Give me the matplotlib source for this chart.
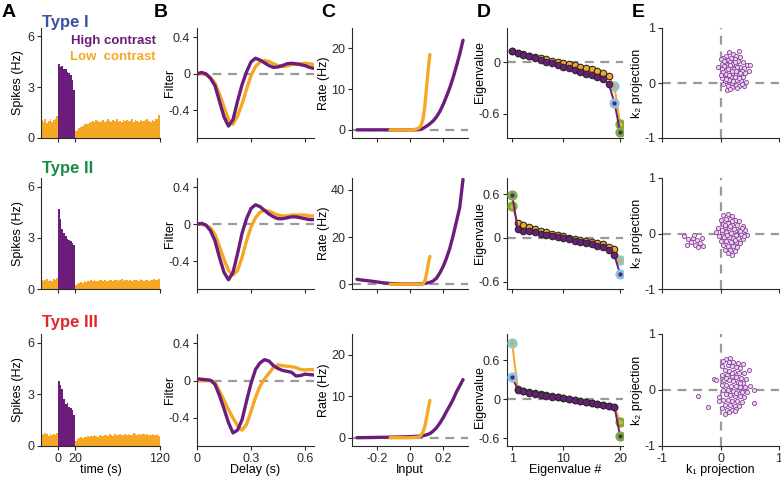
import numpy as np
import matplotlib.pyplot as plt

plt.rcParams['font.family'] = ['Liberation Sans', 'DejaVu Sans']
plt.rcParams['axes.unicode_minus'] = False
plt.rcParams['font.size'] = 9

PURPLE = '#6c1d7b'
ORANGE = '#f6a724'
CYAN = '#86c9e3'
GREEN = '#77b03f'
DASH = '#9a9a9a'
INK = '#2a2a2a'

# ---------- data ----------
type_names = ['Type I', 'Type II', 'Type III']
type_colors = ['#3a52a3', '#1d8a4a', '#e0262b']

# A: PSTH (2 s bins): before switch, high contrast 0-20 s, low contrast 20-120 s
pre_rates = [
    [1.05, 0.95, 1.10, 0.90, 1.00, 1.15, 0.95, 1.05, 1.10, 1.30],
    [0.55, 0.45, 0.50, 0.60, 0.48, 0.52, 0.45, 0.58, 0.50, 0.62],
    [0.70, 0.62, 0.75, 0.68, 0.60, 0.72, 0.65, 0.70, 0.66, 0.78],
]
high_rates = [
    [4.35, 4.20, 4.25, 4.05, 4.10, 3.90, 3.85, 3.70, 3.40, 2.85],
    [4.70, 4.10, 3.50, 3.30, 3.10, 2.95, 2.85, 2.80, 2.70, 2.55],
    [3.80, 3.55, 3.30, 2.70, 2.45, 2.50, 2.25, 2.20, 2.10, 1.80],
]
post_rates = [
    [0.40, 0.50, 0.58, 0.65, 0.72, 0.80, 0.85, 0.82, 0.90, 0.95,
     1.00, 0.92, 1.05, 0.98, 0.95, 1.02, 1.08, 0.96, 1.00, 1.10,
     0.98, 0.94, 1.05, 1.00, 1.12, 0.97, 1.03, 0.95, 1.08, 1.00,
     1.06, 0.98, 1.02, 1.10, 0.96, 1.04, 1.00, 0.95, 1.08, 1.02,
     0.98, 1.05, 1.12, 1.00, 0.96, 1.06, 1.02, 1.10, 1.15, 1.35],
    [0.22, 0.30, 0.35, 0.40, 0.38, 0.45, 0.42, 0.48, 0.44, 0.50,
     0.46, 0.52, 0.48, 0.45, 0.50, 0.55, 0.47, 0.52, 0.49, 0.45,
     0.53, 0.50, 0.46, 0.55, 0.51, 0.48, 0.52, 0.56, 0.47, 0.50,
     0.54, 0.49, 0.52, 0.46, 0.55, 0.50, 0.53, 0.48, 0.57, 0.51,
     0.49, 0.54, 0.50, 0.47, 0.55, 0.52, 0.58, 0.50, 0.53, 0.60],
    [0.30, 0.38, 0.45, 0.50, 0.48, 0.55, 0.52, 0.58, 0.54, 0.60,
     0.56, 0.62, 0.58, 0.55, 0.64, 0.60, 0.57, 0.66, 0.62, 0.59,
     0.68, 0.63, 0.60, 0.70, 0.65, 0.62, 0.72, 0.66, 0.61, 0.68,
     0.64, 0.70, 0.66, 0.62, 0.75, 0.68, 0.64, 0.70, 0.66, 0.72,
     0.68, 0.63, 0.70, 0.66, 0.64, 0.69, 0.65, 0.62, 0.67, 0.60],
]

# B: linear filters, sampled every 25 ms from 0 to 0.65 s
delay = np.round(np.arange(0, 0.651, 0.025), 3)
filt_high = [
    [0.0, 0.015, 0.0, -0.05, -0.13, -0.30, -0.47, -0.57, -0.50, -0.30, -0.12, 0.02, 0.13, 0.17,
     0.15, 0.12, 0.09, 0.07, 0.075, 0.09, 0.11, 0.115, 0.11, 0.10, 0.09, 0.07, 0.06],
    [0.0, 0.01, -0.01, -0.07, -0.18, -0.36, -0.52, -0.60, -0.52, -0.32, -0.10, 0.06, 0.17, 0.21,
     0.19, 0.15, 0.11, 0.08, 0.06, 0.06, 0.07, 0.08, 0.08, 0.07, 0.06, 0.05, 0.05],
    [0.02, 0.015, 0.01, 0.005, -0.04, -0.16, -0.30, -0.45, -0.56, -0.53, -0.42, -0.22, -0.03, 0.12,
     0.19, 0.225, 0.21, 0.16, 0.13, 0.11, 0.10, 0.09, 0.05, 0.055, 0.07, 0.065, 0.06],
]
filt_low = [
    [0.0, 0.0, -0.01, -0.04, -0.10, -0.22, -0.36, -0.50, -0.55, -0.46, -0.33, -0.17, -0.02, 0.08,
     0.13, 0.145, 0.135, 0.11, 0.09, 0.08, 0.085, 0.10, 0.105, 0.11, 0.115, 0.11, 0.10],
    [0.0, 0.0, -0.01, -0.04, -0.11, -0.24, -0.38, -0.50, -0.55, -0.50, -0.36, -0.18, -0.03, 0.07,
     0.13, 0.15, 0.14, 0.12, 0.10, 0.09, 0.09, 0.10, 0.10, 0.10, 0.10, 0.09, 0.09],
    [0.0, 0.0, 0.0, 0.0, -0.02, -0.11, -0.21, -0.31, -0.40, -0.48, -0.53, -0.47, -0.33, -0.18,
     -0.06, 0.02, 0.08, 0.14, 0.17, 0.16, 0.155, 0.15, 0.14, 0.12, 0.115, 0.12, 0.115],
]

# C: nonlinearities
input_high = [-0.32, -0.28, -0.24, -0.20, -0.16, -0.12, -0.08, -0.04, 0.0, 0.04, 0.06, 0.08,
              0.10, 0.12, 0.14, 0.16, 0.18, 0.20, 0.22, 0.24, 0.26, 0.28, 0.30, 0.32]
input_low = [-0.12, -0.08, -0.04, 0.0, 0.02, 0.04, 0.05, 0.06, 0.07, 0.08, 0.09, 0.10, 0.11, 0.12]
rate_high = [
    [0.0, 0.0, 0.0, 0.0, 0.0, 0.0, 0.0, 0.0, 0.0, 0.02, 0.1, 0.4,
     0.9, 1.5, 2.2, 3.2, 4.5, 6.2, 8.2, 10.3, 12.8, 15.6, 18.6, 22.0],
    [2.1, 1.7, 1.4, 1.0, 0.6, 0.35, 0.2, 0.1, 0.1, 0.1, 0.15, 0.25,
     0.5, 0.8, 1.4, 2.6, 4.8, 7.5, 11.0, 15.2, 20.5, 26.5, 32.5, 44.5],
    [0.0, 0.02, 0.05, 0.08, 0.1, 0.13, 0.16, 0.2, 0.25, 0.35, 0.4, 0.5,
     0.7, 1.0, 1.6, 2.4, 3.5, 4.8, 6.3, 7.7, 9.2, 11.0, 12.5, 14.0],
]
rate_low = [
    [0.0, 0.0, 0.0, 0.0, 0.05, 0.2, 0.4, 0.7, 1.4, 3.0, 6.0, 10.5, 14.8, 18.5],
    [0.0, 0.0, 0.0, 0.0, 0.0, 0.0, 0.0, 0.0, 0.1, 0.3, 1.5, 4.5, 8.5, 11.8],
    [0.0, 0.0, 0.0, 0.0, 0.05, 0.1, 0.2, 0.4, 0.8, 1.5, 2.8, 4.8, 7.0, 9.0],
]

# D: STC eigenvalues
eig_num = np.arange(1, 21)
eig_high = [
    [0.135, 0.11, 0.09, 0.07, 0.05, 0.03, 0.01, -0.01, -0.03, -0.05,
     -0.07, -0.09, -0.11, -0.13, -0.15, -0.17, -0.19, -0.25, -0.47, -0.81],
    [0.59, 0.115, 0.10, 0.09, 0.075, 0.06, 0.045, 0.03, 0.015, 0.0,
     -0.02, -0.04, -0.06, -0.075, -0.09, -0.11, -0.13, -0.16, -0.24, -0.50],
    [0.34, 0.145, 0.12, 0.10, 0.085, 0.07, 0.055, 0.04, 0.025, 0.01,
     0.0, -0.015, -0.03, -0.045, -0.06, -0.075, -0.085, -0.10, -0.12, -0.57],
]
eig_low = [
    [0.13, 0.11, 0.095, 0.08, 0.065, 0.05, 0.035, 0.02, 0.005, -0.005,
     -0.02, -0.035, -0.05, -0.065, -0.08, -0.10, -0.12, -0.16, -0.28, -0.72],
    [0.44, 0.20, 0.17, 0.145, 0.12, 0.10, 0.08, 0.06, 0.04, 0.02,
     0.0, -0.015, -0.03, -0.045, -0.06, -0.075, -0.09, -0.12, -0.15, -0.30],
    [0.86, 0.16, 0.13, 0.11, 0.095, 0.08, 0.065, 0.05, 0.035, 0.02,
     0.005, -0.01, -0.025, -0.04, -0.055, -0.07, -0.085, -0.10, -0.12, -0.35],
]
eig_rings = [{19: CYAN, 20: GREEN}, {1: GREEN, 20: CYAN}, {1: CYAN, 20: GREEN}]

# E: projections onto k1 / k2
proj_1 = [
    (0.32, 0.58), (0.15, 0.56), (0.22, 0.53), (0.10, 0.50), (0.27, 0.49), (0.05, 0.46), (0.18, 0.46),
    (0.34, 0.47), (0.00, 0.43), (0.12, 0.42), (0.24, 0.43), (0.30, 0.40), (0.08, 0.38), (0.16, 0.38),
    (0.38, 0.38), (-0.05, 0.30), (0.03, 0.35), (0.20, 0.35), (0.26, 0.33), (0.45, 0.33), (0.51, 0.32),
    (0.06, 0.31), (0.12, 0.30), (0.33, 0.30), (0.40, 0.28), (0.02, 0.26), (0.18, 0.27), (0.23, 0.25),
    (0.09, 0.24), (0.29, 0.23), (0.36, 0.22), (0.48, 0.21), (0.04, 0.20), (0.14, 0.20), (0.21, 0.19),
    (0.42, 0.18), (0.07, 0.15), (0.26, 0.16), (0.32, 0.14), (0.11, 0.12), (0.18, 0.11), (0.38, 0.11),
    (0.03, 0.09), (0.23, 0.08), (0.29, 0.06), (0.14, 0.05), (0.08, 0.03), (0.35, 0.03), (0.44, 0.02),
    (0.19, 0.00), (0.05, -0.02), (0.26, -0.03), (0.12, -0.05), (0.32, -0.06), (0.41, -0.05),
    (0.20, -0.08), (0.28, -0.09), (0.11, -0.13), (0.16, -0.10), (0.37, -0.02), (0.09, 0.17),
    (0.16, 0.33), (0.24, 0.38), (0.28, 0.29), (0.13, 0.26), (0.06, 0.40), (0.20, 0.22), (0.34, 0.18),
    (0.01, 0.14), (0.25, 0.11), (0.21, 0.04), (0.15, 0.15), (0.27, 0.21), (0.10, 0.07), (0.31, 0.09),
]
proj_2 = [
    (-0.62, -0.05), (-0.55, -0.10), (-0.50, -0.15), (-0.47, -0.08), (-0.43, -0.20), (-0.40, -0.12),
    (-0.38, -0.25), (-0.35, -0.18), (-0.32, -0.08), (-0.30, -0.22), (-0.57, -0.20), (-0.45, -0.03),
    (0.05, 0.33), (0.12, 0.35), (0.20, 0.32), (0.00, 0.25), (0.09, 0.27), (0.16, 0.26), (0.25, 0.24),
    (0.32, 0.22), (0.04, 0.18), (0.12, 0.19), (0.20, 0.17), (0.28, 0.15), (0.38, 0.14), (-0.04, 0.10),
    (0.07, 0.11), (0.15, 0.10), (0.23, 0.08), (0.31, 0.07), (0.42, 0.06), (0.02, 0.03), (0.10, 0.02),
    (0.18, 0.01), (0.26, 0.00), (0.35, -0.01), (0.45, -0.02), (-0.03, -0.05), (0.06, -0.06),
    (0.14, -0.07), (0.22, -0.08), (0.30, -0.09), (0.39, -0.10), (0.01, -0.13), (0.10, -0.14),
    (0.18, -0.15), (0.26, -0.16), (0.34, -0.17), (0.05, -0.21), (0.13, -0.22), (0.21, -0.23),
    (0.29, -0.24), (0.08, -0.29), (0.17, -0.30), (0.25, -0.31), (0.12, -0.36), (0.20, -0.38),
    (0.03, 0.07), (0.19, 0.22), (0.27, -0.03), (0.36, 0.10), (-0.08, 0.02), (0.11, -0.02),
    (0.33, 0.04), (0.16, 0.14), (0.24, -0.12), (0.08, 0.15), (0.40, -0.05),
]
proj_3 = [
    (-0.39, -0.11), (-0.21, -0.30), (-0.11, 0.19), (-0.07, 0.17), (0.58, -0.24), (0.57, 0.00),
    (-0.03, -0.13), (-0.02, -0.19), (0.10, 0.56), (0.16, 0.58), (0.05, 0.52), (0.22, 0.50),
    (0.30, 0.48), (0.38, 0.47), (0.02, 0.42), (0.12, 0.45), (0.19, 0.42), (0.27, 0.41), (0.34, 0.39),
    (0.08, 0.36), (0.15, 0.34), (0.23, 0.33), (0.31, 0.31), (0.41, 0.30), (0.48, 0.35), (0.03, 0.27),
    (0.11, 0.26), (0.19, 0.25), (0.27, 0.24), (0.35, 0.22), (0.44, 0.20), (0.06, 0.18), (0.14, 0.17),
    (0.22, 0.16), (0.30, 0.15), (0.38, 0.13), (0.02, 0.09), (0.10, 0.09), (0.18, 0.08), (0.26, 0.07),
    (0.34, 0.06), (0.42, 0.05), (0.50, 0.08), (0.05, 0.00), (0.13, 0.00), (0.21, -0.01), (0.29, -0.02),
    (0.37, -0.03), (0.45, -0.04), (0.09, -0.08), (0.17, -0.09), (0.25, -0.10), (0.33, -0.11),
    (0.41, -0.12), (0.04, -0.17), (0.12, -0.18), (0.20, -0.19), (0.28, -0.20), (0.36, -0.21),
    (0.08, -0.26), (0.16, -0.27), (0.24, -0.28), (0.32, -0.29), (0.03, -0.33), (0.11, -0.35),
    (0.19, -0.36), (0.27, -0.34), (0.07, -0.42), (0.15, -0.40), (0.24, -0.38), (0.14, 0.50),
    (0.33, 0.12), (0.20, 0.30), (0.26, -0.05), (0.09, 0.21),
]
projections = [proj_1, proj_2, proj_3]

# ---------- layout (pixels of a 781x478 canvas) ----------
W, H = 781, 478
col_px = [(41, 119), (197, 117), (352, 116), (507, 116), (662, 117)]
row_px = [(28, 138), (178, 289), (334, 446)]
# anchor (axes fraction) of each column's y label
ylabel_x = [-0.145, -0.18, -0.19, -0.185, -0.16]
eig_label_y = [0.6, 0.5, 0.44]


def fx(px):
    return px / W


def fy(py):
    return 1 - py / H


def style(ax, bottom_labels):
    for s in ['top', 'right']:
        ax.spines[s].set_visible(False)
    for s in ['left', 'bottom']:
        ax.spines[s].set_color(INK)
        ax.spines[s].set_linewidth(0.8)
    ax.tick_params(direction='out', length=3, width=0.8, pad=2, colors=INK, labelsize=9)
    if not bottom_labels:
        ax.tick_params(labelbottom=False)
    ax.patch.set_alpha(0)


def dashed(ax, horizontal=True, vertical=False):
    if horizontal:
        ax.axhline(0, color=DASH, lw=1.6, ls=(0, (4, 3)), zorder=1)
    if vertical:
        ax.axvline(0, color=DASH, lw=1.6, ls=(0, (4, 3)), zorder=1)


fig = plt.figure(figsize=(W / 100, H / 100), dpi=100)

for r in range(3):
    top, bot = row_px[r]
    last = r == 2
    axes = []
    for (left, width) in col_px:
        axes.append(fig.add_axes([fx(left), fy(bot), width / W, (bot - top) / H]))
    axA, axB, axC, axD, axE = axes

    # A: PSTH
    axA.stairs(pre_rates[r], np.arange(-20, 0.1, 2), fill=True, color=ORANGE, lw=0)
    axA.stairs(high_rates[r], np.arange(0, 20.1, 2), fill=True, color=PURPLE, lw=0)
    axA.stairs(post_rates[r], np.arange(20, 120.1, 2), fill=True, color=ORANGE, lw=0)
    axA.set_xlim(-20, 120)
    axA.set_ylim(0, 6.5)
    axA.set_xticks([0, 20, 120])
    axA.set_yticks([0, 3, 6])
    axA.set_ylabel('Spikes (Hz)')
    style(axA, last)

    # B: filters
    dashed(axB)
    axB.plot(delay, filt_low[r], color=ORANGE, lw=2.4, zorder=2, solid_capstyle='round')
    axB.plot(delay, filt_high[r], color=PURPLE, lw=2.4, zorder=3, solid_capstyle='round')
    axB.set_xlim(0, 0.65)
    axB.set_ylim(-0.7, 0.5)
    axB.set_xticks([0, 0.3, 0.6])
    axB.set_xticklabels(['0', '0.3', '0.6'])
    axB.set_yticks([-0.4, 0, 0.4])
    axB.set_yticklabels(['-0.4', '0', '0.4'])
    axB.set_ylabel('Filter')
    style(axB, last)

    # C: nonlinearities
    dashed(axC)
    axC.plot(input_high, rate_high[r], color=PURPLE, lw=2.4, zorder=2, solid_capstyle='round')
    axC.plot(input_low, rate_low[r], color=ORANGE, lw=2.4, zorder=3, solid_capstyle='round')
    axC.set_xlim(-0.35, 0.35)
    axC.set_xticks([-0.2, 0, 0.2])
    axC.set_xticklabels(['-0.2', '0', '0.2'])
    if r == 1:
        axC.set_ylim(-2, 45)
        axC.set_yticks([0, 20, 40])
    else:
        axC.set_ylim(-2, 25)
        axC.set_yticks([0, 10, 20])
    axC.set_ylabel('Rate (Hz)')
    style(axC, last)

    # D: eigenvalues
    dashed(axD)
    rings = eig_rings[r]
    plain = [i for i in eig_num if i not in rings]
    for vals, c, z in [(eig_low[r], ORANGE, 2), (eig_high[r], PURPLE, 4)]:
        vals = np.array(vals)
        axD.plot(eig_num, vals, color=c, lw=1.4, zorder=z)
        axD.scatter(plain, vals[np.array(plain) - 1], s=22, color=c, edgecolor=INK, lw=0.8, zorder=z + 1)
        for i, rc in rings.items():
            axD.scatter([i], [vals[i - 1]], s=55, color=rc, lw=0, zorder=z + 1)
            axD.scatter([i], [vals[i - 1]], s=10, color=c, lw=0, zorder=z + 1)
    axD.set_xlim(0.1, 20.5)
    axD.set_xticks([1, 10, 20])
    if r == 0:
        axD.set_ylim(-0.88, 0.4)
        axD.set_yticks([-0.6, 0])
        axD.set_yticklabels(['-0.6', '0'])
    elif r == 1:
        axD.set_ylim(-0.7, 0.82)
        axD.set_yticks([-0.6, 0, 0.6])
        axD.set_yticklabels(['-0.6', '0', '0.6'])
    else:
        axD.set_ylim(-0.72, 1.0)
        axD.set_yticks([-0.6, 0, 0.6])
        axD.set_yticklabels(['-0.6', '0', '0.6'])
    axD.set_ylabel('Eigenvalue')
    style(axD, last)

    # E: projections
    dashed(axE, True, True)
    pts = np.array(projections[r])
    axE.scatter(pts[:, 0], pts[:, 1], s=9, facecolor='#ead9ee', edgecolor='#8b3f9c', lw=0.6, zorder=3)
    axE.set_xlim(-1, 1)
    axE.set_ylim(-1, 1)
    axE.set_xticks([-1, 0, 1])
    axE.set_yticks([-1, 0, 1])
    axE.set_ylabel('k\u2082 projection')
    style(axE, last)

    for ax, lx in zip(axes, ylabel_x):
        ax.yaxis.set_label_coords(lx, 0.5)
    axD.yaxis.set_label_coords(ylabel_x[3], eig_label_y[r])

    if last:
        axA.set_xlabel('time (s)', labelpad=-1)
        axB.set_xlabel('Delay (s)', labelpad=-1)
        axC.set_xlabel('Input', labelpad=-1)
        axD.set_xlabel('Eigenvalue #', labelpad=-1)
        axE.set_xlabel('k\u2081 projection', labelpad=-1)

# row titles
title_y = [23, 168, 323]
for name, c, y in zip(type_names, type_colors, title_y):
    fig.text(fx(42), fy(y), name, color=c, fontsize=12, fontweight='bold', va='center', ha='left')

# legend text
fig.text(fx(156), fy(41), 'High contrast', color=PURPLE, fontsize=9.5, fontweight='bold', ha='right', va='center')
fig.text(fx(156), fy(57), 'Low  contrast', color=ORANGE, fontsize=9.5, fontweight='bold', ha='right', va='center')

# panel letters
for letter, x in zip('ABCDE', [2, 154, 321, 477, 632]):
    fig.text(fx(x), fy(4), letter, fontsize=14, fontweight='bold', va='top', ha='left')

fig.savefig('out.png', dpi=100)
